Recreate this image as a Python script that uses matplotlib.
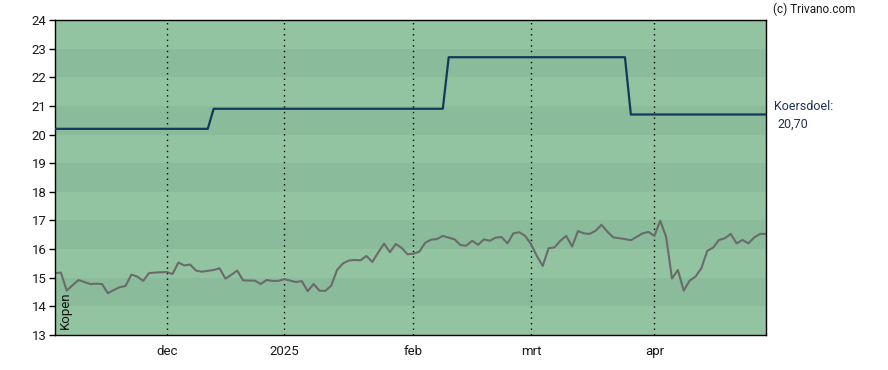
import numpy as np
import pandas as pd
import matplotlib
matplotlib.use("Agg")
import matplotlib.pyplot as plt

plt.rcParams["font.family"] = ["Roboto", "DejaVu Sans"]

# trading days (Euronext holidays left out)
holidays = ["2024-12-25", "2024-12-26", "2025-01-01", "2025-04-18", "2025-04-21"]
dates = pd.bdate_range("2024-11-05", "2025-04-30")
dates = dates[~dates.isin(pd.to_datetime(holidays))]

# daily closing price
price = [
    15.16, 15.18, 14.55, 14.74, 14.92, 14.85, 14.78, 14.79, 14.78, 14.46,
    14.57, 14.67, 14.71, 15.11, 15.04, 14.89, 15.16, 15.18, 15.19, 15.20,
    15.13, 15.53, 15.43, 15.46, 15.25, 15.21, 15.24, 15.27, 15.33, 14.97,
    15.10, 15.25, 14.91, 14.90, 14.90, 14.78, 14.92, 14.89, 14.89, 14.95,
    14.90, 14.85, 14.88, 14.53, 14.78, 14.55, 14.54, 14.72, 15.27, 15.50,
    15.60, 15.62, 15.61, 15.76, 15.55, 15.88, 16.19, 15.89, 16.18, 16.04,
    15.82, 15.84, 15.91, 16.22, 16.33, 16.35, 16.46, 16.40, 16.34, 16.14,
    16.12, 16.29, 16.15, 16.34, 16.29, 16.40, 16.42, 16.20, 16.55, 16.59,
    16.46, 16.18, 15.76, 15.41, 16.03, 16.06, 16.29, 16.46, 16.09, 16.63,
    16.55, 16.53, 16.64, 16.85, 16.61, 16.41, 16.38, 16.35, 16.31, 16.43,
    16.55, 16.60, 16.46, 16.99, 16.43, 14.97, 15.27, 14.55, 14.90, 15.04,
    15.33, 15.94, 16.05, 16.32, 16.38, 16.53, 16.20, 16.32, 16.20, 16.41,
    16.53, 16.53,
]

# analyst target price (koersdoel) changes
target_dates = ["2024-11-05", "2024-12-12", "2025-02-11", "2025-03-26"]
target_values = [20.20, 20.90, 22.70, 20.70]

month_labels = ["dec", "2025", "feb", "mrt", "apr"]
month_starts = ["2024-12-01", "2025-01-01", "2025-02-01", "2025-03-01", "2025-04-01"]

n = len(dates)
x = np.arange(n)
price = np.array(price[:n])
target = (pd.Series(target_values, index=pd.to_datetime(target_dates))
          .reindex(dates, method="ffill").values)
tick_pos = [int(np.argmax(dates >= pd.Timestamp(d))) for d in month_starts]

fig = plt.figure(figsize=(8.88, 3.70), dpi=100)
ax = fig.add_axes([55 / 888, 1 - 335 / 370, 711 / 888, 315 / 370])

light, dark = "#93c4a2", "#8abb9a"
for lo in range(13, 24):
    ax.axhspan(lo, lo + 1, color=dark if lo % 2 == 0 else light, lw=0, zorder=0)

for p in tick_pos:
    ax.axvline(p, color="black", lw=1, ls=(0, (1, 3)), zorder=1)

ax.plot(x, target, color="#0f3a5a", lw=1.6, zorder=3)
ax.plot(x, price, color="#6b6b6b", lw=1.5, zorder=2)

ax.set_xlim(0, n - 1)
ax.set_ylim(13, 24)
ax.set_yticks(range(13, 25))
ax.set_xticks(tick_pos)
ax.set_xticklabels(month_labels)
ax.tick_params(axis="y", length=4, width=1, labelsize=9.5, labelcolor="#1a1a1a", pad=2)
ax.tick_params(axis="x", length=0, labelsize=9.5, labelcolor="#1a1a1a", pad=7)
for s in ax.spines.values():
    s.set_color("black")
    s.set_linewidth(1)

ax.text(0.006, 0.02, "Kopen", transform=ax.transAxes, rotation=90,
        fontsize=9.5, color="#111111", ha="left", va="bottom")

fig.text(773 / 888, 1 - 9 / 370, "(c) Trivano.com", fontsize=8.5,
         color="#1a1a1a", ha="left", va="center")
fig.text(774 / 888, 1 - 106 / 370, "Koersdoel:", fontsize=9,
         color="#1f3350", ha="left", va="center")
fig.text(777 / 888, 1 - 124 / 370, "20,70", fontsize=9,
         color="#1f3350", ha="left", va="center")

fig.savefig("out.png", dpi=100)
